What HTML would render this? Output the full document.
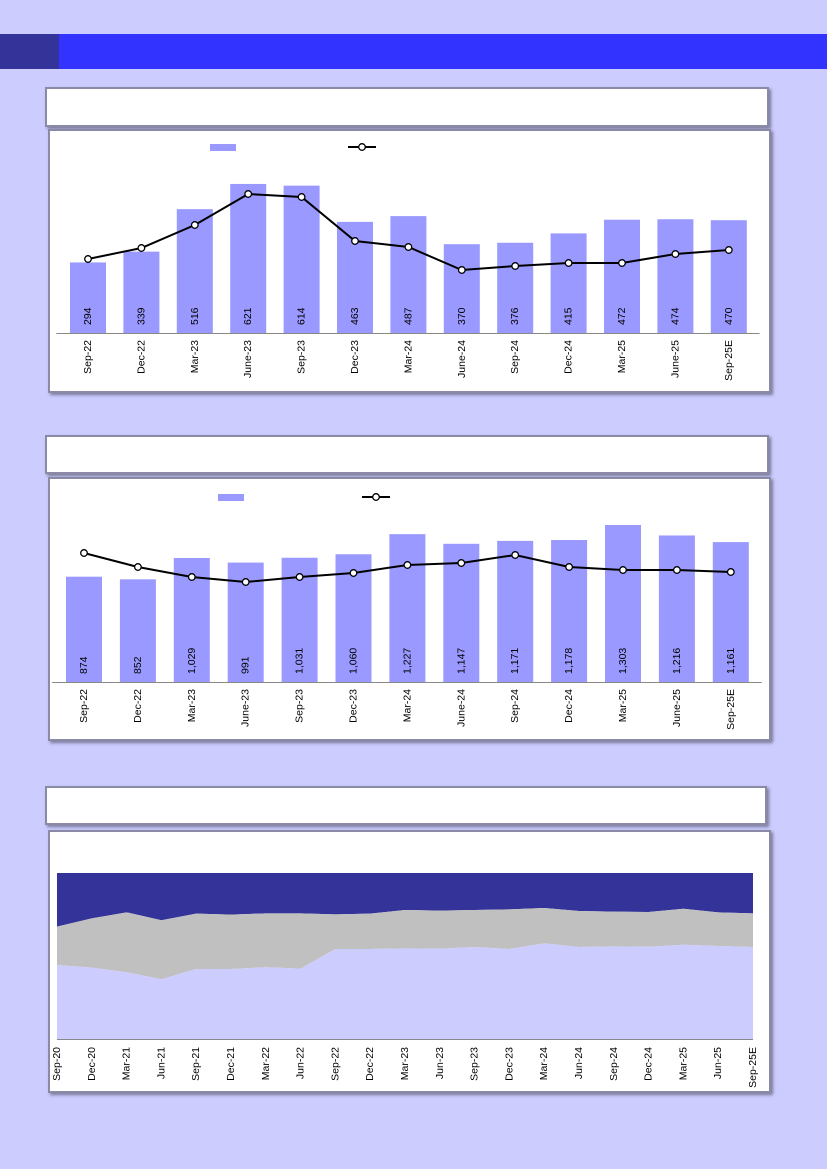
<!DOCTYPE html>
<html><head><meta charset="utf-8"><style>
body{margin:0;width:827px;height:1169px;background:#ccccff;position:relative;overflow:hidden;font-family:"Liberation Sans",sans-serif}
.abs{position:absolute}
.box{position:absolute;background:#fff;border:2px solid #8a8aa6;box-shadow:2px 2px 3px #7a7a99;box-sizing:border-box}
svg{position:absolute;left:0;top:0}
</style></head><body>
<div class="abs" style="left:0;top:34px;width:59px;height:35px;background:#333399"></div>
<div class="abs" style="left:59px;top:34px;width:768px;height:35px;background:#3333ff"></div>
<div class="box" style="left:45px;top:87px;width:724px;height:40px"></div>
<div class="box" style="left:48px;top:129px;width:723px;height:264px"></div>
<div class="box" style="left:45px;top:435px;width:724px;height:39px"></div>
<div class="box" style="left:48px;top:477px;width:723px;height:264px"></div>
<div class="box" style="left:45px;top:786px;width:722px;height:39px"></div>
<div class="box" style="left:48px;top:830px;width:723px;height:263px"></div>
<svg id="s" width="827" height="1169"></svg>
<script>
const cats1=["Sep-22","Dec-22","Mar-23","June-23","Sep-23","Dec-23","Mar-24","June-24","Sep-24","Dec-24","Mar-25","June-25","Sep-25E"];
const bars1=[294,339,516,621,614,463,487,370,376,415,472,474,470];
const line1=[74,85,108,139,136,92,86,63,67,70,70,79,83];
const labels1=["294","339","516","621","614","463","487","370","376","415","472","474","470"];
const cats2=["Sep-22","Dec-22","Mar-23","June-23","Sep-23","Dec-23","Mar-24","June-24","Sep-24","Dec-24","Mar-25","June-25","Sep-25E"];
const bars2=[874,852,1029,991,1031,1060,1227,1147,1171,1178,1303,1216,1161];
const line2=[129,115,105,100,105,109,117,119,127,115,112,112,110];
const labels2=["874","852","1,029","991","1,031","1,060","1,227","1,147","1,171","1,178","1,303","1,216","1,161"];
const cats3=["Sep-20","Dec-20","Mar-21","Jun-21","Sep-21","Dec-21","Mar-22","Jun-22","Sep-22","Dec-22","Mar-23","Jun-23","Sep-23","Dec-23","Mar-24","Jun-24","Sep-24","Dec-24","Mar-25","Jun-25","Sep-25E"];
const area1=[44.6,43.0,40.2,36.0,42.2,42.2,43.2,42.4,54.2,54.2,54.6,54.4,55.4,54.2,57.6,55.4,55.8,55.6,56.8,56.0,55.4];
const area2=[23.1,29.7,36.1,35.5,33.3,32.7,32.5,33.3,20.9,21.3,23.1,22.9,22.3,23.9,21.3,21.7,20.9,20.9,21.7,20.3,20.3];
const area3=[32.3,27.3,23.7,28.5,24.5,25.1,24.3,24.3,24.9,24.5,22.3,22.7,22.3,21.9,21.1,22.9,23.3,23.5,21.5,23.7,24.3];

const S=document.getElementById('s'),NS='http://www.w3.org/2000/svg';
function mk(t,a,txt){const e=document.createElementNS(NS,t);for(const k in a)e.setAttribute(k,a[k]);if(txt!=null)e.textContent=txt;S.appendChild(e);return e;}
function vtext(x,y,s,anchor,name){const e=mk('text',{x:0,y:0,transform:`translate(${x},${y}) rotate(-90)`,'text-anchor':anchor,'font-size':10.5,fill:'#000','dominant-baseline':'central','font-family':'Liberation Sans, sans-serif'},s);

return e;}

function combo(cfg){
  const {cats,bars,line,labels,x0,step,base,k,lk,bw,legX,legL,pre}=cfg;
  const xs=i=>x0+i*step, yb=v=>base-v*k, yl=v=>base-v*lk;
  let r=mk('rect',{x:legX,y:cfg.legY-3,width:26,height:7,fill:'#9999ff'});
  
  
  let l=mk('line',{x1:legL,y1:cfg.legY,x2:legL+28,y2:cfg.legY,stroke:'#000','stroke-width':2});
  
  
  let c=mk('circle',{cx:legL+14,cy:cfg.legY,r:3.3,fill:'#fff',stroke:'#000','stroke-width':1.3});
  
  
  bars.forEach((v,i)=>{
    const b=mk('rect',{x:xs(i)-bw/2,y:yb(v),width:bw,height:base-yb(v),fill:'#9999ff'});
    
    
    vtext(xs(i),base-8,labels[i],'start',pre+'-value-label');
    vtext(xs(i),base+7,cats[i],'end',pre+'-x-label');
  });
  const ax=mk('line',{x1:x0-step/2-5,y1:base+0.5,x2:xs(cats.length-1)+step/2+4,y2:base+0.5,stroke:'#888','stroke-width':1});
  
  
  const p=mk('polyline',{points:line.map((v,i)=>xs(i)+','+yl(v)).join(' '),fill:'none',stroke:'#000','stroke-width':2});
  
  
  line.forEach((v,i)=>{const m=mk('circle',{cx:xs(i),cy:yl(v),r:3.3,fill:'#fff',stroke:'#000','stroke-width':1.3});
    
    });
}
combo({cats:cats1,bars:bars1,line:line1,labels:labels1,x0:88,step:53.4,base:333,k:0.24,lk:1,bw:36,legX:210,legL:348,legY:147,pre:'chart1'});
combo({cats:cats2,bars:bars2,line:line2,labels:labels2,x0:84,step:53.9,base:682,k:0.1205,lk:1,bw:36,legX:218,legL:362,legY:497,pre:'chart2'});

const ax0=57,ax1=753,aTop=873,aBot=1039,nA=cats3.length;
const xa=i=>ax0+i*(ax1-ax0)/(nA-1), ya=v=>aBot-v/100*(aBot-aTop);
function band(lo,hi,fill,name){
  const pts=[];for(let i=0;i<nA;i++)pts.push(xa(i)+','+ya(hi[i]));
  for(let i=nA-1;i>=0;i--)pts.push(xa(i)+','+ya(lo[i]));
  const e=mk('polygon',{points:pts.join(' '),fill:fill});
  
  
}
const zeros=area1.map(()=>0);
const c1=area1.slice();
const c2=area1.map((v,i)=>v+area2[i]);
const c3=c2.map((v,i)=>v+area3[i]);
band(c2,c3,'#333399','area-series-3');
band(c1,c2,'#c0c0c0','area-series-2');
band(zeros,c1,'#ccccff','area-series-1');
const a3=mk('line',{x1:ax0,y1:aBot+0.5,x2:ax1,y2:aBot+0.5,stroke:'#888','stroke-width':1});


cats3.forEach((c,i)=>vtext(xa(i),aBot+8,c,'end','chart3-x-label'));
</script>
</body></html>
